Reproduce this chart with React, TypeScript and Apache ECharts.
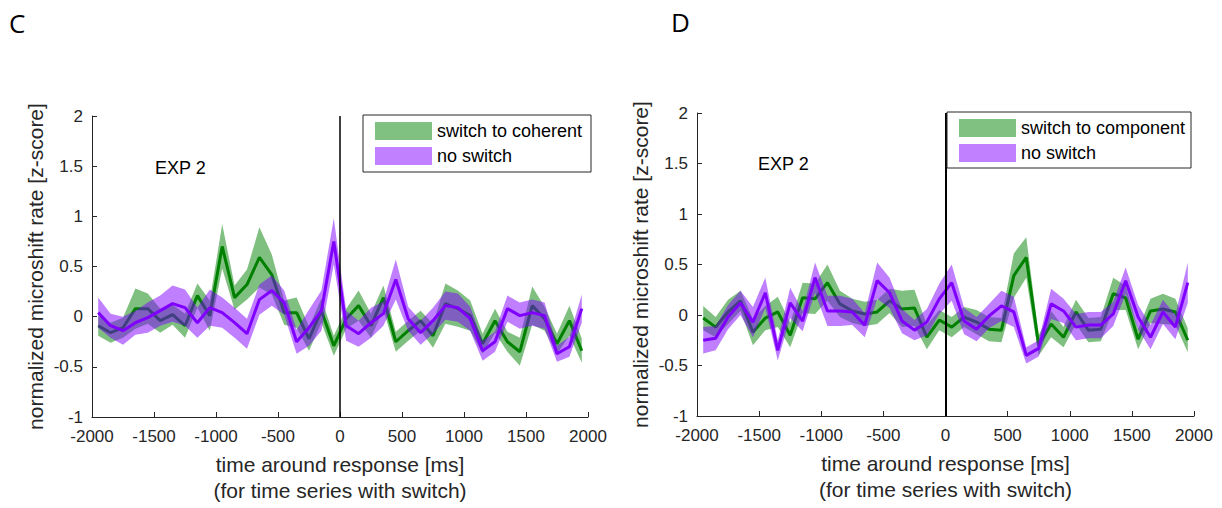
import React, { useEffect, useRef } from "react";
import * as echarts from "echarts";

const times = [-1950, -1850, -1750, -1650, -1550, -1450, -1350, -1250, -1150, -1050, -950, -850, -750, -650, -550, -450, -350, -250, -150, -50, 50, 150, 250, 350, 450, 550, 650, 750, 850, 950, 1050, 1150, 1250, 1350, 1450, 1550, 1650, 1750, 1850, 1950];

const xTicks = { min: -2000, max: 2000, interval: 500 };
const yTicks = { min: -1, max: 2, interval: 0.5 };

// Panel C
const greenC = [-0.09, -0.16, -0.11, 0.08, 0.08, -0.04, 0.02, -0.09, 0.21, 0.01, 0.70, 0.19, 0.32, 0.59, 0.42, 0.04, 0.04, -0.22, 0.06, -0.29, -0.02, 0.11, -0.09, 0.19, -0.25, -0.14, -0.04, -0.19, 0.13, 0.08, 0.01, -0.27, -0.04, -0.25, -0.35, 0.11, -0.02, -0.27, -0.04, -0.34];
const errGreenC = [0.1, 0.1, 0.1, 0.2, 0.15, 0.12, 0.1, 0.12, 0.12, 0.15, 0.22, 0.12, 0.15, 0.3, 0.2, 0.12, 0.15, 0.12, 0.12, 0.1, 0.1, 0.15, 0.12, 0.12, 0.1, 0.1, 0.1, 0.12, 0.2, 0.18, 0.15, 0.1, 0.12, 0.1, 0.14, 0.19, 0.12, 0.1, 0.15, 0.12];
const purpleC = [0.04, -0.09, -0.14, -0.06, -0.01, 0.06, 0.13, 0.09, -0.06, 0.09, 0.04, -0.06, -0.17, 0.17, 0.26, 0.14, -0.25, -0.11, 0.06, 0.75, -0.09, -0.17, -0.06, 0.03, 0.37, -0.02, -0.16, -0.04, 0.11, 0.09, -0.02, -0.34, -0.25, 0.08, 0.01, 0.04, 0.01, -0.37, -0.30, 0.08];
const errPurpleC = [0.15, 0.12, 0.14, 0.12, 0.15, 0.15, 0.18, 0.18, 0.15, 0.18, 0.15, 0.15, 0.15, 0.15, 0.15, 0.12, 0.12, 0.18, 0.2, 0.23, 0.15, 0.13, 0.15, 0.12, 0.2, 0.12, 0.12, 0.13, 0.14, 0.14, 0.12, 0.1, 0.1, 0.13, 0.13, 0.13, 0.13, 0.08, 0.1, 0.14];

// Panel D
const greenD = [-0.03, -0.12, 0.03, 0.14, -0.17, -0.03, 0.03, -0.20, 0.17, 0.16, 0.32, 0.11, 0.04, 0.01, 0.03, 0.14, 0.06, 0.07, -0.22, -0.05, -0.12, -0.02, -0.07, -0.14, -0.15, 0.39, 0.57, -0.30, -0.09, -0.22, 0.03, -0.15, -0.14, 0.21, 0.17, -0.24, 0.04, 0.06, 0.03, -0.25];
const errGreenD = [0.12, 0.1, 0.12, 0.1, 0.13, 0.12, 0.15, 0.12, 0.15, 0.15, 0.18, 0.13, 0.12, 0.12, 0.12, 0.12, 0.18, 0.18, 0.12, 0.1, 0.1, 0.1, 0.12, 0.12, 0.12, 0.22, 0.2, 0.1, 0.13, 0.1, 0.12, 0.12, 0.12, 0.16, 0.12, 0.1, 0.12, 0.15, 0.13, 0.12];
const purpleD = [-0.25, -0.23, -0.02, 0.12, -0.07, 0.22, -0.35, 0.12, -0.06, 0.37, 0.04, 0.04, 0.03, -0.10, 0.34, 0.22, -0.06, -0.15, -0.07, 0.16, 0.32, -0.06, -0.14, -0.01, 0.09, 0.03, -0.40, -0.33, 0.11, 0.04, -0.12, -0.10, -0.10, 0.01, 0.34, -0.02, -0.22, 0.03, -0.12, 0.32];
const errPurpleD = [0.13, 0.12, 0.12, 0.12, 0.15, 0.15, 0.1, 0.15, 0.1, 0.15, 0.15, 0.15, 0.13, 0.12, 0.18, 0.15, 0.12, 0.1, 0.13, 0.15, 0.18, 0.13, 0.12, 0.12, 0.15, 0.15, 0.08, 0.08, 0.15, 0.12, 0.13, 0.13, 0.13, 0.12, 0.13, 0.12, 0.12, 0.12, 0.12, 0.2];

const GREEN = "#008000";
const PURPLE = "#8000ff";
const GREEN_BAND = "rgba(0,128,0,0.5)";
const PURPLE_BAND = "rgba(128,0,255,0.5)";
const AXIS = "#262626";
const FONT = "'Liberation Sans', Arial, sans-serif";

function band(idx: number, mean: number[], err: number[], fill: string, z: number) {
  return {
    type: "custom",
    xAxisIndex: idx,
    yAxisIndex: idx,
    data: [[0, 0]],
    silent: true,
    z,
    renderItem: (_params: any, api: any) => {
      const pts: number[][] = [];
      for (let i = 0; i < times.length; i++) pts.push(api.coord([times[i], mean[i] + err[i]]));
      for (let i = times.length - 1; i >= 0; i--) pts.push(api.coord([times[i], mean[i] - err[i]]));
      return { type: "polygon", shape: { points: pts }, style: { fill } };
    },
  };
}

function line(idx: number, vals: number[], color: string, z: number) {
  return {
    type: "line",
    xAxisIndex: idx,
    yAxisIndex: idx,
    data: times.map((t, i) => [t, vals[i]]),
    showSymbol: false,
    symbol: "none",
    silent: true,
    z,
    lineStyle: { color, width: 3 },
  };
}

function zeroLine(idx: number, width: number) {
  return {
    type: "line",
    xAxisIndex: idx,
    yAxisIndex: idx,
    data: [],
    z: 10,
    markLine: {
      silent: true,
      symbol: "none",
      label: { show: false },
      lineStyle: { color: "#000", width, type: "solid" },
      data: [{ xAxis: 0 }],
    },
  };
}

function xAxis(idx: number) {
  return {
    type: "value",
    gridIndex: idx,
    ...xTicks,
    axisLine: { show: true, onZero: false, lineStyle: { color: AXIS, width: 1 } },
    axisTick: { show: true, inside: true, length: 5, lineStyle: { color: AXIS } },
    axisLabel: { color: AXIS, fontSize: 17, fontFamily: FONT, margin: 11, formatter: (v: number) => String(v) },
    splitLine: { show: false },
    name: "time around response [ms]\n(for time series with switch)",
    nameLocation: "middle",
    nameGap: 34,
    nameTextStyle: { color: AXIS, fontSize: 21, fontFamily: FONT, lineHeight: 26 },
  };
}

function yAxis(idx: number) {
  return {
    type: "value",
    gridIndex: idx,
    ...yTicks,
    axisLine: { show: true, onZero: false, lineStyle: { color: AXIS, width: 1 } },
    axisTick: { show: true, inside: true, length: 5, lineStyle: { color: AXIS } },
    axisLabel: { color: AXIS, fontSize: 17, fontFamily: FONT, margin: 9, formatter: (v: number) => String(v) },
    splitLine: { show: false },
    name: "normalized microshift rate [z-score]",
    nameLocation: "middle",
    nameGap: 46,
    nameTextStyle: { color: AXIS, fontSize: 21, fontFamily: FONT },
  };
}

function legend(x: number, y: number, w: number, h: number, label1: string) {
  const px = x + 12;
  return [
    { type: "rect", shape: { x, y, width: w, height: h }, style: { fill: "#fff", stroke: AXIS, lineWidth: 1 }, z: 20 },
    { type: "rect", shape: { x: px, y: y + 7, width: 57, height: 18 }, style: { fill: "rgb(128,192,128)" }, z: 21 },
    { type: "rect", shape: { x: px, y: y + 32, width: 57, height: 18 }, style: { fill: "rgb(192,128,255)" }, z: 21 },
    { type: "text", x: px + 62, y: y + 16, style: { text: label1, font: `18px ${FONT}`, fill: "#000", align: "left", verticalAlign: "middle" }, z: 21 },
    { type: "text", x: px + 62, y: y + 41, style: { text: "no switch", font: `18px ${FONT}`, fill: "#000", align: "left", verticalAlign: "middle" }, z: 21 },
  ];
}

export default function App() {
  const ref = useRef<HTMLDivElement>(null);
  useEffect(() => {
    document.body.style.margin = "0";
    const chart = echarts.init(ref.current!, null, { renderer: "svg" });
    chart.setOption({
      animation: false,
      backgroundColor: "#fff",
      grid: [
        { left: 92, top: 116, width: 496, height: 304 },
        { left: 697, top: 113, width: 497, height: 303 },
      ],
      xAxis: [xAxis(0), xAxis(1)],
      yAxis: [yAxis(0), yAxis(1)],
      series: [
        band(0, greenC, errGreenC, GREEN_BAND, 1),
        line(0, greenC, GREEN, 2),
        band(0, purpleC, errPurpleC, PURPLE_BAND, 3),
        line(0, purpleC, PURPLE, 4),
        zeroLine(0, 1.5),
        band(1, greenD, errGreenD, GREEN_BAND, 1),
        line(1, greenD, GREEN, 2),
        band(1, purpleD, errPurpleD, PURPLE_BAND, 3),
        line(1, purpleD, PURPLE, 4),
        zeroLine(1, 2),
      ],
      graphic: [
        { type: "text", x: 9, y: 23, style: { text: "C", font: `26px 'Open Sans', sans-serif`, fill: "#000", align: "left", verticalAlign: "middle" } },
        { type: "text", x: 671, y: 22, style: { text: "D", font: `26px 'Open Sans', sans-serif`, fill: "#000", align: "left", verticalAlign: "middle" } },
        { type: "text", x: 155, y: 168, style: { text: "EXP 2", font: `18px ${FONT}`, fill: "#000", align: "left", verticalAlign: "middle" } },
        { type: "text", x: 758, y: 164, style: { text: "EXP 2", font: `18px ${FONT}`, fill: "#000", align: "left", verticalAlign: "middle" } },
        ...legend(363, 115, 228, 57, "switch to coherent"),
        ...legend(947, 112, 244, 56, "switch to component"),
      ],
    });
    return () => chart.dispose();
  }, []);
  return <div ref={ref} style={{ width: 1222, height: 508 }} />;
}
